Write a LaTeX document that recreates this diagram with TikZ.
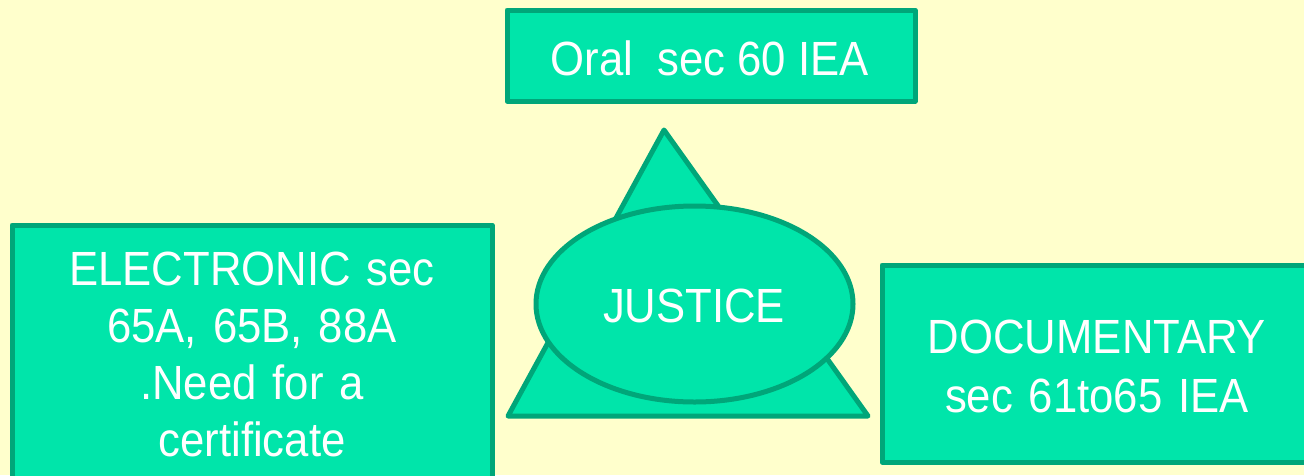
\documentclass[tikz,border=0pt]{standalone}
\usepackage{fontspec}
\setmainfont{Liberation Sans}[FakeStretch=0.91]
\usetikzlibrary{shapes.geometric}
\definecolor{bgcol}{HTML}{FFFFCC}
\definecolor{fillcol}{HTML}{00E5AA}
\definecolor{edgecol}{HTML}{00A679}
\tikzset{
  shapebox/.style={draw=edgecol, fill=fillcol, line width=5pt, line join=round, inner sep=0pt},
  lbl/.style={text=white, align=center, inner sep=0pt, font=\fontsize{48}{57}\selectfont},
}
\begin{document}
\begin{tikzpicture}[x=1pt,y=-1pt]
\useasboundingbox (0,0) rectangle (1304,475);
\clip (0,0) rectangle (1304,475);
\fill[bgcol] (0,0) rectangle (1304,475);
% top box
\node[shapebox, rectangle, minimum width=408pt, minimum height=91pt] (oral) at (711,55.5) {};
\node[lbl, anchor=base] (oralt) at (709.5,75) {Oral\ \ sec 60 IEA};
% triangle
\draw[shapebox] (664,130) -- (868,416) -- (508,416) -- cycle;
% ellipse
\node[shapebox, ellipse, minimum width=317pt, minimum height=196pt] (just) at (694.5,304) {};
\node[lbl, anchor=base] (justt) at (694,322) {JUSTICE};
% left box
\node[shapebox, rectangle, minimum width=480pt, minimum height=270pt] (elec) at (252,360) {};
\node[lbl, anchor=base, text width=470pt] (elect) at (252,285) {ELECTRONIC sec\\65A, 65B, 88A\\.Need for a\\certificate};
% right box
\node[shapebox, rectangle, minimum width=430pt, minimum height=197pt] (doc) at (1097,363.5) {};
\node[lbl, anchor=base, text width=420pt, font=\fontsize{48}{59}\selectfont] (doct) at (1097,353) {DOCUMENTARY\\sec 61to65 IEA};
\end{tikzpicture}
\end{document}
